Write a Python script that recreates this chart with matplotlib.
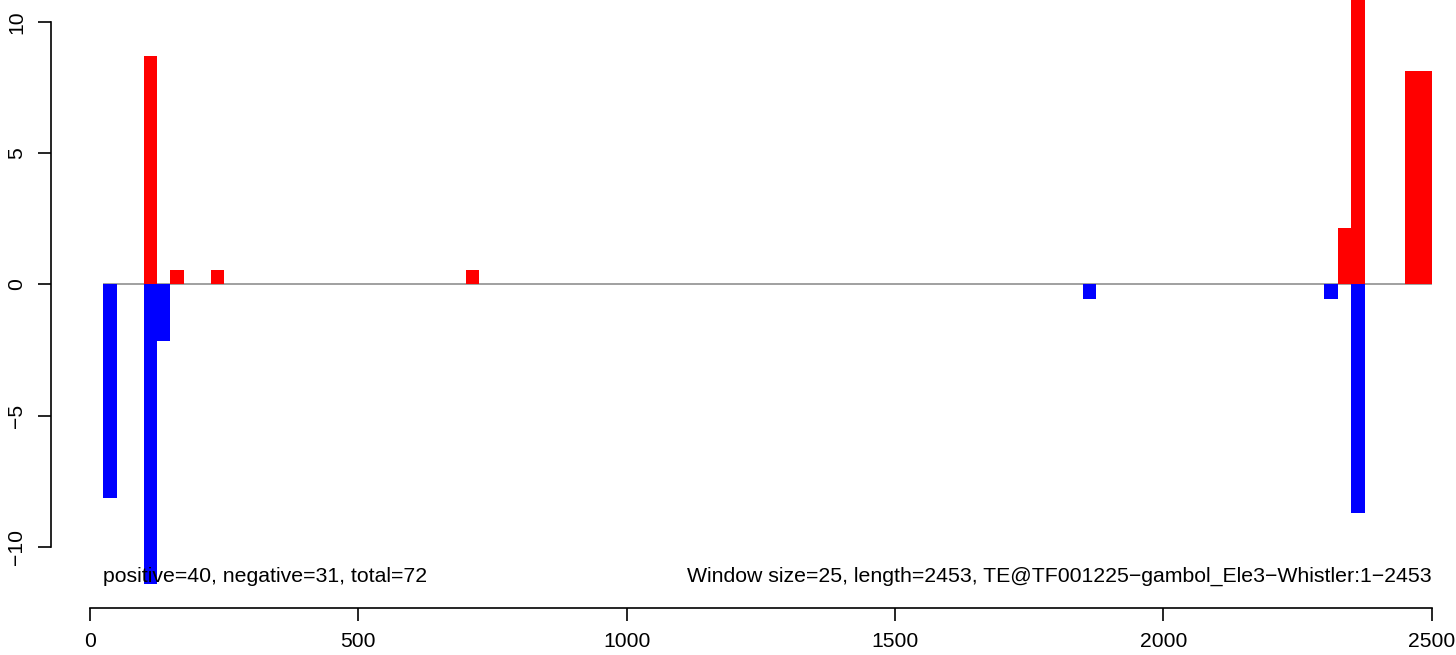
import matplotlib
matplotlib.use('Agg')
import matplotlib.pyplot as plt

plt.rcParams['font.family'] = ['Liberation Sans', 'DejaVu Sans']

# window starts and scores (window size 25)
pos_start = [100, 150, 225, 700, 2325, 2350, 2450, 2475]
pos_value = [8.70, 0.55, 0.55, 0.55, 2.17, 13.0, 8.15, 8.15]
neg_start = [25, 100, 125, 1850, 2300, 2350]
neg_value = [-8.15, -11.41, -2.17, -0.54, -0.54, -8.70]

window = 25
seq_len = 2453
info_left = 'positive=40, negative=31, total=72'
info_right = 'Window size=25, length=2453, TE@TF001225\u2212gambol_Ele3\u2212Whistler:1\u22122453'

fig = plt.figure(figsize=(14.56, 6.55), dpi=100)
ax = fig.add_axes([0.03482, 0.07221, 0.96518, 0.92779])

ax.hlines(0, 25, 2500, color='#999999', linewidth=1.3, zorder=0.5)
ax.bar(pos_start, pos_value, width=window, align='edge', color='red', linewidth=0)
ax.bar(neg_start, neg_value, width=window, align='edge', color='blue', linewidth=0)

ax.text(25, -11.15, info_left, ha='left', va='center', fontsize=15.3)
ax.text(2500, -11.15, info_right, ha='right', va='center', fontsize=15.3)

ax.set_xlim(-73.2, 2545.2)
ax.set_ylim(-12.33, 10.85)

ax.spines['top'].set_visible(False)
ax.spines['right'].set_visible(False)
ax.spines['left'].set_bounds(-10, 10)
ax.spines['bottom'].set_bounds(0, 2500)
for s in ['left', 'bottom']:
    ax.spines[s].set_linewidth(1.2)

ax.set_xticks([0, 500, 1000, 1500, 2000, 2500])
ax.set_yticks([-10, -5, 0, 5, 10])
ax.set_yticklabels(['\u221210', '\u22125', '0', '5', '10'], rotation=90, va='center')
ax.tick_params(axis='both', length=9.5, width=1.2, labelsize=15.2, direction='out')
ax.tick_params(axis='x', pad=8)
ax.tick_params(axis='y', pad=8)

plt.savefig('out.png', dpi=100)
